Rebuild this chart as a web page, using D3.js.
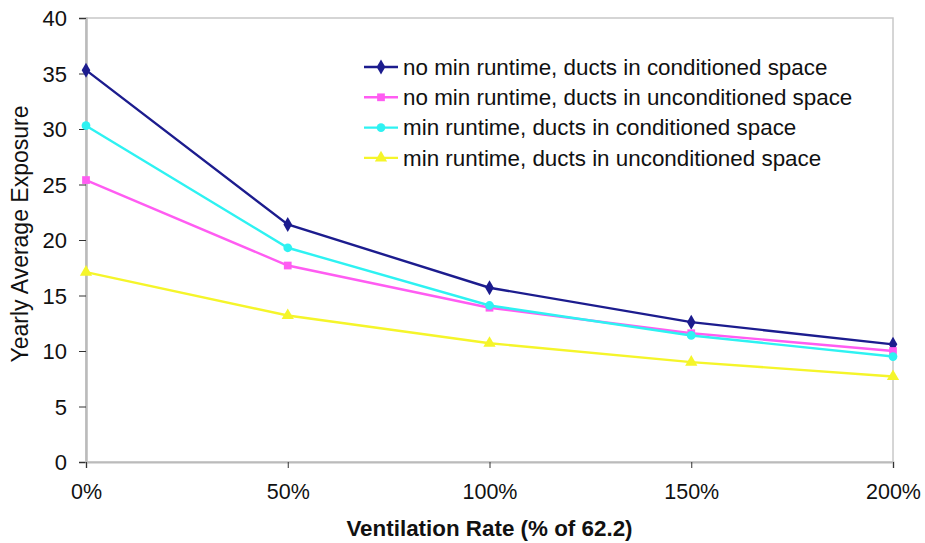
<!DOCTYPE html>
<html>
<head>
<meta charset="utf-8">
<script src="https://cdn.jsdelivr.net/npm/d3@7"></script>
<style>
  html, body { margin: 0; padding: 0; background: #fff; }
  svg { display: block; font-family: "Liberation Sans", Arial, sans-serif; }
</style>
</head>
<body>
<svg id="chart" width="925" height="543"></svg>
<script>
// Ventilation rate categories (% of ASHRAE 62.2)
const rates = ["0%", "50%", "100%", "150%", "200%"];
const rateValues = [0, 50, 100, 150, 200];

// Yearly average exposure per scenario
const noMinCond   = [35.3, 21.4, 15.7, 12.6, 10.6];
const noMinUncond = [25.4, 17.7, 13.9, 11.6, 10.0];
const minCond     = [30.3, 19.3, 14.1, 11.4, 9.5];
const minUncond   = [17.1, 13.2, 10.7, 9.0, 7.7];

const seriesNames = [
  "no min runtime, ducts in conditioned space",
  "no min runtime, ducts in unconditioned space",
  "min runtime, ducts in conditioned space",
  "min runtime, ducts in unconditioned space"
];
const yTicks = [0, 5, 10, 15, 20, 25, 30, 35, 40];

const series = [
  { name: seriesNames[0], values: noMinCond,   color: "#1c1c8e", marker: "diamond" },
  { name: seriesNames[1], values: noMinUncond, color: "#ff5cf2", marker: "square" },
  { name: seriesNames[2], values: minCond,     color: "#2ef2f2", marker: "circle" },
  { name: seriesNames[3], values: minUncond,   color: "#f5f52a", marker: "triangle" }
];

const svg = d3.select("#chart");
const m = { left: 86, right: 893, top: 18, bottom: 462 };

const x = d3.scaleLinear().domain([0, 200]).range([m.left, m.right]);
const y = d3.scaleLinear().domain([0, 40]).range([m.bottom, m.top]);

// plot frame
svg.append("rect")
  .attr("x", m.left).attr("y", m.top)
  .attr("width", m.right - m.left).attr("height", m.bottom - m.top)
  .attr("fill", "#fff").attr("stroke", "#c8c8c8").attr("stroke-width", 1.5);

// y axis
const yAxis = svg.append("g")
  .attr("transform", `translate(${m.left},0)`)
  .call(d3.axisLeft(y).tickValues(yTicks).tickSize(7).tickPadding(12).tickFormat(d3.format("d")));
yAxis.select(".domain").attr("stroke", "#bbb").attr("stroke-width", 2.5);
yAxis.selectAll(".tick line").attr("stroke", "#333");
yAxis.selectAll(".tick text").attr("font-size", 22).attr("fill", "#111").attr("dy", "0.36em");

// x axis
const xAxis = svg.append("g")
  .attr("transform", `translate(0,${m.bottom})`)
  .call(d3.axisBottom(x).tickValues(rateValues).tickSize(6).tickPadding(16)
    .tickFormat((d, i) => rates[i]));
xAxis.select(".domain").attr("stroke", "#bbb").attr("stroke-width", 2);
xAxis.selectAll(".tick line").attr("stroke", "#333");
xAxis.selectAll(".tick text").attr("font-size", 21.5).attr("fill", "#111");

// axis titles
svg.append("text")
  .attr("x", (m.left + m.right) / 2).attr("y", 536)
  .attr("text-anchor", "middle").attr("font-size", 22.4).attr("font-weight", "bold")
  .attr("fill", "#111")
  .text("Ventilation Rate (% of 62.2)");

svg.append("text")
  .attr("transform", `translate(28,${(m.top + m.bottom) / 2 - 6}) rotate(-90)`)
  .attr("text-anchor", "middle").attr("font-size", 23).attr("fill", "#111")
  .text("Yearly Average Exposure");

// marker shapes
const symbolFor = {
  diamond: d3.symbol().type(d3.symbolDiamond).size(65),
  square: d3.symbol().type(d3.symbolSquare).size(60),
  circle: d3.symbol().type(d3.symbolCircle).size(60),
  triangle: d3.symbol().type(d3.symbolTriangle).size(65)
};

const line = d3.line()
  .x((d, i) => x(rateValues[i]))
  .y(d => y(d));

series.forEach(s => {
  svg.append("path")
    .datum(s.values)
    .attr("fill", "none")
    .attr("stroke", s.color)
    .attr("stroke-width", 2.4)
    .attr("d", line);
  svg.append("g").selectAll("path")
    .data(s.values)
    .join("path")
    .attr("transform", (d, i) => `translate(${x(rateValues[i])},${y(d)})`)
    .attr("d", symbolFor[s.marker])
    .attr("fill", s.color);
});

// legend
const legend = svg.append("g");
series.forEach((s, i) => {
  const ly = 67 + i * 30.3;
  legend.append("line")
    .attr("x1", 364).attr("x2", 398).attr("y1", ly).attr("y2", ly)
    .attr("stroke", s.color).attr("stroke-width", 2.4);
  legend.append("path")
    .attr("transform", `translate(381,${ly})`)
    .attr("d", symbolFor[s.marker])
    .attr("fill", s.color);
  legend.append("text")
    .attr("x", 403).attr("y", ly).attr("dy", "0.35em")
    .attr("font-size", 22.4).attr("fill", "#111")
    .text(s.name);
});
</script>
</body>
</html>
